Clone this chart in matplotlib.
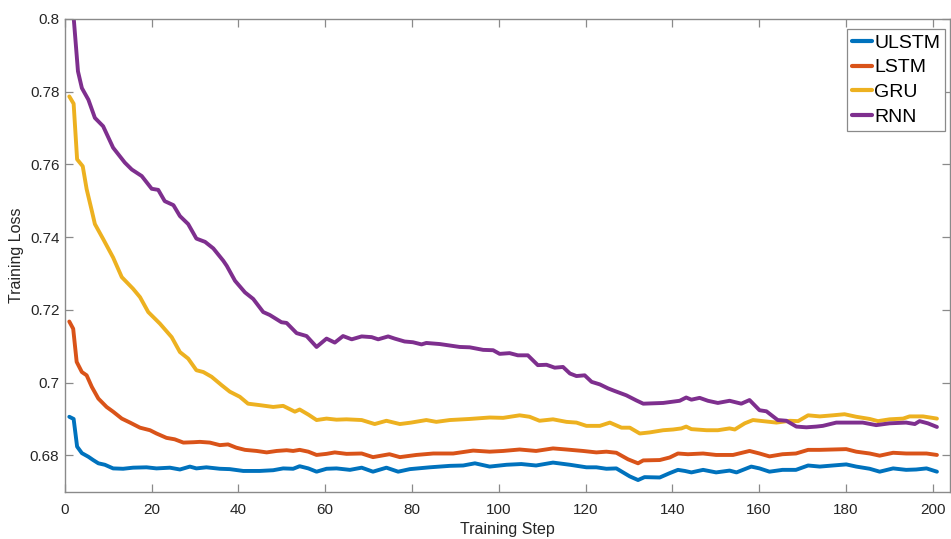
import matplotlib
matplotlib.use("Agg")
import matplotlib.pyplot as plt
from matplotlib.ticker import FuncFormatter, MultipleLocator

plt.rcParams["font.family"] = ["Liberation Sans", "DejaVu Sans"]

# training loss curves, one (step, loss) pair of lists per model
ulstm_steps = [1, 2, 2.8, 3.9, 5.4, 6.5, 7.7, 9.2, 11.1, 13.4, 15.7, 18.8, 21.1, 24.2, 26.5,
               28.8, 30.3, 32.6, 35.7, 38, 41.1, 44.9, 48, 50.3, 52.6, 54.1, 56.1, 58, 60.3,
               62.6, 65.7, 68.4, 71, 74.1, 76.8, 79.5, 84.1, 88.7, 91.8, 94.5, 97.9, 101.8,
               105.2, 108.6, 112.5, 116.4, 120.2, 122.5, 124.8, 127.1, 130.2, 132.1, 133.6,
               137.1, 139.4, 141.3, 142.9, 144.4, 147.1, 150.1, 153.2, 154.8, 158.2, 160.1,
               162.4, 165.4, 168.5, 171.3, 174, 177, 180.1, 182.4, 185.5, 187.8, 190.9,
               193.9, 196.2, 198.6, 201]
ulstm_loss = [0.6906, 0.69, 0.6824, 0.6806, 0.6796, 0.6787, 0.6778, 0.6774, 0.6764, 0.6763,
              0.6766, 0.6767, 0.6764, 0.6766, 0.6761, 0.6769, 0.6764, 0.6767, 0.6763, 0.6762,
              0.6757, 0.6757, 0.6759, 0.6764, 0.6763, 0.677, 0.6764, 0.6755, 0.6763, 0.6764,
              0.676, 0.6766, 0.6755, 0.6766, 0.6755, 0.6762, 0.6767, 0.6771, 0.6772, 0.6778,
              0.6769, 0.6774, 0.6776, 0.6772, 0.678, 0.6774, 0.6767, 0.6767, 0.6763, 0.6764,
              0.6742, 0.6732, 0.674, 0.6739, 0.6751, 0.676, 0.6757, 0.6753, 0.676, 0.6753,
              0.6758, 0.6753, 0.6769, 0.6764, 0.6755, 0.676, 0.676, 0.6772, 0.6769, 0.6772,
              0.6775, 0.6769, 0.6763, 0.6755, 0.6764, 0.676, 0.6761, 0.6764, 0.6755]

lstm_steps = [1, 1.9, 2.7, 3.9, 5, 6.2, 7.7, 9.6, 11.1, 13.1, 15, 17.3, 19.6, 21.1, 23.4,
              25.3, 27.3, 29.6, 31.1, 33.4, 35.7, 37.6, 39.5, 41.5, 44.2, 46.5, 48.8, 51.1,
              52.6, 54.1, 56.1, 58, 60.3, 62.2, 64.9, 68.4, 71, 74.8, 77.2, 81, 84.9, 89.5,
              94.1, 97.9, 101, 104.8, 108.6, 112.5, 115.6, 119.4, 122.5, 124.8, 127.1, 129.8,
              132.1, 133.3, 137.1, 139.4, 141.3, 143.6, 147.1, 150.1, 154, 157.8, 160.1,
              162.4, 165.4, 168.5, 171.3, 174, 177, 180.1, 182.4, 185.5, 187.8, 190.9,
              193.9, 196.2, 198.6, 201]
lstm_loss = [0.7168, 0.7148, 0.7057, 0.7029, 0.702, 0.6988, 0.6956, 0.6933, 0.692, 0.6901,
             0.689, 0.6876, 0.6869, 0.686, 0.6848, 0.6844, 0.6835, 0.6836, 0.6837, 0.6835,
             0.6828, 0.683, 0.6821, 0.6815, 0.6812, 0.6808, 0.6812, 0.6814, 0.6812, 0.6815,
             0.681, 0.6801, 0.6804, 0.6808, 0.6804, 0.6805, 0.6795, 0.6803, 0.6795, 0.6801,
             0.6805, 0.6805, 0.6813, 0.681, 0.6812, 0.6816, 0.6812, 0.6819, 0.6816, 0.6812,
             0.6808, 0.681, 0.6807, 0.6789, 0.6778, 0.6786, 0.6787, 0.6794, 0.6805, 0.6803,
             0.6805, 0.6801, 0.6801, 0.6812, 0.6805, 0.6797, 0.6803, 0.6805, 0.6815, 0.6815,
             0.6816, 0.6817, 0.681, 0.6805, 0.6799, 0.6807, 0.6805, 0.6805, 0.6805, 0.6801]

gru_steps = [1, 2, 2.8, 4.1, 5, 6.2, 6.9, 8.8, 11.1, 13.1, 15.7, 17.3, 19.2, 21.9, 24.6,
             26.5, 28.4, 30.3, 31.9, 33.8, 36.1, 38, 40.3, 42.2, 44.9, 48, 50.3, 53, 54.1,
             56.1, 58, 60.3, 62.6, 64.9, 68.4, 71.4, 74.1, 77.2, 79.8, 83.3, 85.6, 88.7,
             93.3, 97.9, 101, 104.8, 107.1, 109.4, 112.5, 115.6, 117.9, 120.2, 123.3, 125.6,
             128.3, 130.2, 132.5, 134.8, 137.9, 140.2, 142.1, 143.2, 144.4, 147.9, 150.5,
             153.2, 154.4, 156.7, 158.6, 160.9, 164, 167.1, 169, 171.3, 174, 177, 179.7,
             182.4, 185.5, 187.4, 190.1, 193.2, 194.7, 197.8, 201]
gru_loss = [0.7787, 0.7767, 0.7614, 0.7595, 0.7532, 0.7472, 0.7436, 0.7395, 0.7344, 0.729,
            0.7258, 0.7235, 0.7194, 0.7162, 0.7125, 0.7084, 0.7066, 0.7034, 0.7029, 0.7016,
            0.6993, 0.6975, 0.6961, 0.6942, 0.6938, 0.6933, 0.6936, 0.692, 0.6926, 0.6912,
            0.6897, 0.6901, 0.6898, 0.6899, 0.6897, 0.6886, 0.6895, 0.6886, 0.689, 0.6897,
            0.6892, 0.6897, 0.69, 0.6904, 0.6903, 0.691, 0.6906, 0.6895, 0.6899, 0.6892,
            0.689, 0.6881, 0.6881, 0.689, 0.6876, 0.6876, 0.686, 0.6863, 0.6869, 0.6871,
            0.6874, 0.6879, 0.6872, 0.6869, 0.6869, 0.6874, 0.6871, 0.6888, 0.6897, 0.6894,
            0.689, 0.6895, 0.6894, 0.691, 0.6907, 0.691, 0.6913, 0.6906, 0.69, 0.6894,
            0.6899, 0.6901, 0.6907, 0.6907, 0.6901]

rnn_steps = [1, 2, 3, 3.9, 5.4, 6.9, 8.8, 11.1, 13.8, 15.4, 17.7, 20, 21.5, 23, 25, 26.5,
             28.4, 30.3, 32.3, 34.2, 36.5, 37.3, 39.2, 41.5, 43.4, 45.7, 47.2, 49.9, 51.1,
             53.4, 55.7, 58, 60.3, 62.2, 64.1, 66.1, 68.4, 70.7, 72.2, 74.5, 76, 78.3, 80.2,
             82.2, 83.3, 86.4, 88.7, 91, 93.3, 96.4, 98.7, 100.2, 102.5, 104.4, 106.7, 109,
             111, 112.9, 114.8, 116.4, 117.9, 119.8, 121.4, 123.3, 125.2, 126.7, 129.4,
             131.7, 133.3, 137.9, 141.7, 143.2, 144.4, 146.3, 148.2, 150.5, 153.2, 155.9,
             157.8, 160.1, 161.7, 164.3, 166.3, 168.6, 170.9, 173.2, 174.7, 177.8, 180.9,
             183.9, 187, 190.1, 193.9, 195.9, 197, 198.9, 201]
rnn_loss = [0.815, 0.8005, 0.7856, 0.781, 0.7778, 0.7728, 0.7705, 0.7646, 0.7605, 0.7586,
            0.7568, 0.7533, 0.753, 0.7499, 0.7488, 0.7458, 0.7436, 0.7396, 0.7387, 0.7369,
            0.7335, 0.7321, 0.728, 0.7248, 0.723, 0.7194, 0.7186, 0.7166, 0.7164, 0.7136,
            0.7128, 0.7098, 0.7121, 0.711, 0.7128, 0.7119, 0.7127, 0.7125, 0.7119, 0.7127,
            0.7121, 0.7113, 0.7111, 0.7105, 0.7109, 0.7106, 0.7102, 0.7098, 0.7097, 0.709,
            0.7089, 0.7079, 0.7081, 0.7075, 0.7075, 0.7048, 0.7049, 0.7041, 0.7043, 0.7025,
            0.7018, 0.702, 0.7002, 0.6995, 0.6984, 0.6977, 0.6965, 0.6951, 0.6942, 0.6944,
            0.695, 0.6959, 0.6953, 0.6958, 0.695, 0.6944, 0.695, 0.6942, 0.6952, 0.6924,
            0.6921, 0.6897, 0.6895, 0.6879, 0.6877, 0.6879, 0.6881, 0.689, 0.689, 0.689,
            0.6883, 0.6888, 0.689, 0.6886, 0.6894, 0.6888, 0.6878]

model_names = ["ULSTM", "LSTM", "GRU", "RNN"]
model_colors = ["#0072BD", "#D95319", "#EDB120", "#7E2F8E"]


def main():
    fig = plt.figure(figsize=(9.51, 5.39), dpi=100)
    ax = fig.add_axes([0.0683, 0.0878, 0.9306, 0.877])

    series = [
        (ulstm_steps, ulstm_loss),
        (lstm_steps, lstm_loss),
        (gru_steps, gru_loss),
        (rnn_steps, rnn_loss),
    ]
    for (steps, loss), name, color in zip(series, model_names, model_colors):
        ax.plot(steps, loss, color=color, linewidth=2.8, label=name,
                solid_joinstyle="round", solid_capstyle="round")

    ax.set_xlim(0, 204)
    ax.set_ylim(0.67, 0.8)
    ax.xaxis.set_major_locator(MultipleLocator(20))
    ax.yaxis.set_major_locator(MultipleLocator(0.02))
    ax.yaxis.set_major_formatter(FuncFormatter(lambda v, _: f"{v:g}"))

    axis_gray = "#8a8a8a"
    for spine in ax.spines.values():
        spine.set_color(axis_gray)
        spine.set_linewidth(1.0)
    ax.tick_params(direction="in", length=6, width=0.9, color=axis_gray,
                   top=True, right=True, labelsize=11, labelcolor="#262626")
    ax.tick_params(axis="x", pad=8)
    ax.tick_params(axis="y", pad=4)

    ax.set_xlabel("Training Step", fontsize=11.5, color="#262626", labelpad=4)
    ax.set_ylabel("Training Loss", fontsize=11.5, color="#262626", labelpad=4)

    leg = ax.legend(loc="upper right", bbox_to_anchor=(0.9944, 0.978), borderaxespad=0,
                    fontsize=14, fancybox=False, framealpha=1, edgecolor="#8a8a8a",
                    handlelength=1.0, handletextpad=0.12, labelspacing=0.36,
                    borderpad=0.25)
    leg.get_frame().set_linewidth(0.9)
    for line in leg.get_lines():
        line.set_linewidth(3.0)

    fig.savefig("out.png", dpi=100)
    plt.close(fig)


if __name__ == "__main__":
    main()
